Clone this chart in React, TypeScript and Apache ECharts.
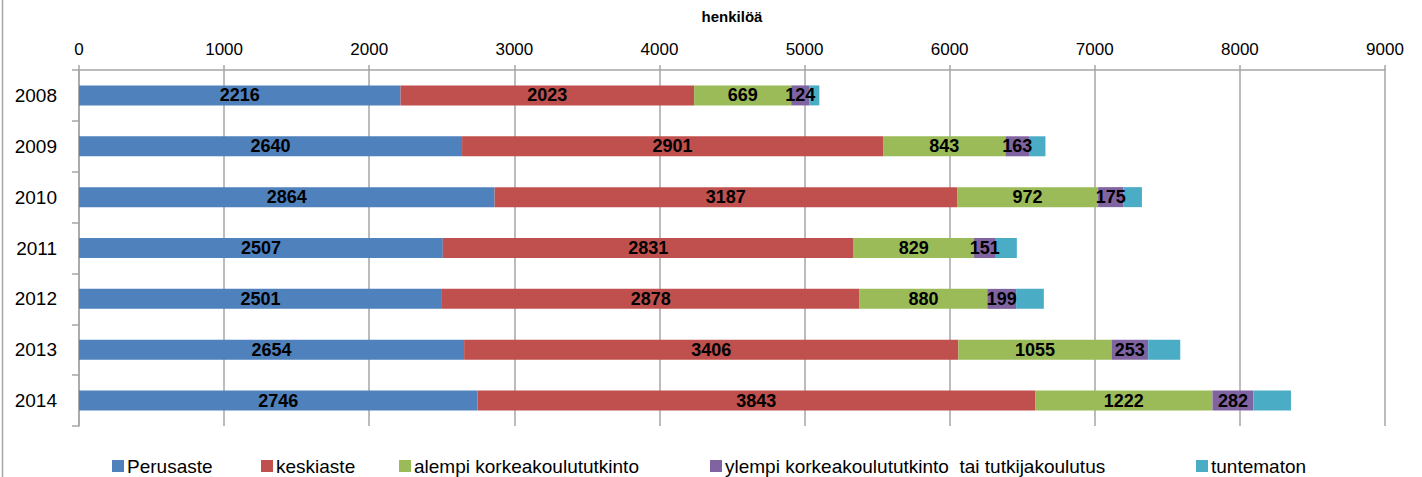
import React, { useEffect, useRef } from "react";
import * as echarts from "echarts";

const years = ["2008", "2009", "2010", "2011", "2012", "2013", "2014"];
const perusaste = [2216, 2640, 2864, 2507, 2501, 2654, 2746];
const keskiaste = [2023, 2901, 3187, 2831, 2878, 3406, 3843];
const alempi = [669, 843, 972, 829, 880, 1055, 1222];
const ylempi = [124, 163, 175, 151, 199, 253, 282];
const tuntematon = [70, 113, 127, 145, 191, 221, 259];
const xTicks = [0, 1000, 2000, 3000, 4000, 5000, 6000, 7000, 8000, 9000];

const seriesNames = [
  "Perusaste",
  "keskiaste",
  "alempi korkeakoulututkinto",
  "ylempi korkeakoulututkinto  tai tutkijakoulutus",
  "tuntematon",
];
const seriesData = [perusaste, keskiaste, alempi, ylempi, tuntematon];
const colors = ["#4F81BD", "#C0504D", "#9BBB59", "#8064A2", "#4BACC6"];
const legendLefts = [112, 261, 399, 710, 1196];

export default function App() {
  const ref = useRef<HTMLDivElement>(null);
  useEffect(() => {
    document.body.style.margin = "0";
    const chart = echarts.init(ref.current!, null, { renderer: "svg" });
    const font = "'Liberation Sans', Arial, sans-serif";
    chart.setOption({
      animation: false,
      color: colors,
      textStyle: { fontFamily: font },
      grid: { left: 79, right: 37, top: 70, bottom: 51, containLabel: false },
      xAxis: {
        type: "value",
        position: "top",
        min: xTicks[0],
        max: xTicks[xTicks.length - 1],
        interval: 1000,
        name: "henkilöä",
        nameLocation: "middle",
        nameGap: 46,
        nameTextStyle: { fontWeight: "bold", fontSize: 15, color: "#000", fontFamily: font },
        axisLine: { show: true, lineStyle: { color: "#A6A6A6", width: 1.5 } },
        axisTick: { show: true, length: 5, lineStyle: { color: "#A6A6A6", width: 1.5 } },
        axisLabel: {
          fontSize: 17,
          color: "#000",
          margin: 12,
          fontFamily: font,
          formatter: (v: number) => String(v),
        },
        splitLine: { show: true, lineStyle: { color: "#A6A6A6", width: 1.5 } },
      },
      yAxis: {
        type: "category",
        data: years,
        inverse: true,
        axisLine: { show: true, lineStyle: { color: "#A6A6A6", width: 1.5 } },
        axisTick: { show: true, length: 7, lineStyle: { color: "#A6A6A6", width: 1.5 } },
        axisLabel: { fontSize: 19, color: "#000", margin: 22, fontFamily: font },
        splitLine: { show: false },
      },
      legend: seriesNames.map((n, i) => ({
        data: [n],
        left: legendLefts[i],
        top: 456,
        itemWidth: 12,
        itemHeight: 12,
        itemGap: 0,
        padding: 0,
        icon: "rect",
        selectedMode: false,
        textStyle: {
          fontSize: 19,
          lineHeight: 20,
          color: "#000",
          fontFamily: font,
          padding: [0, 0, 0, -2],
        },
      })),
      graphic: [
        {
          type: "line",
          shape: { x1: 2.5, y1: 0, x2: 2.5, y2: 477 },
          style: { stroke: "#A6A6A6", lineWidth: 1.5 },
        },
      ],
      series: seriesNames.map((n, i) => ({
        name: n,
        type: "bar",
        stack: "total",
        barWidth: 20,
        data: seriesData[i],
        itemStyle: { color: colors[i] },
        label: {
          show: i < 4,
          position: "inside",
          color: "#000",
          fontWeight: "bold",
          fontSize: 18,
          fontFamily: font,
        },
      })),
    });
    return () => chart.dispose();
  }, []);
  return <div ref={ref} style={{ width: 1422, height: 477 }} />;
}
